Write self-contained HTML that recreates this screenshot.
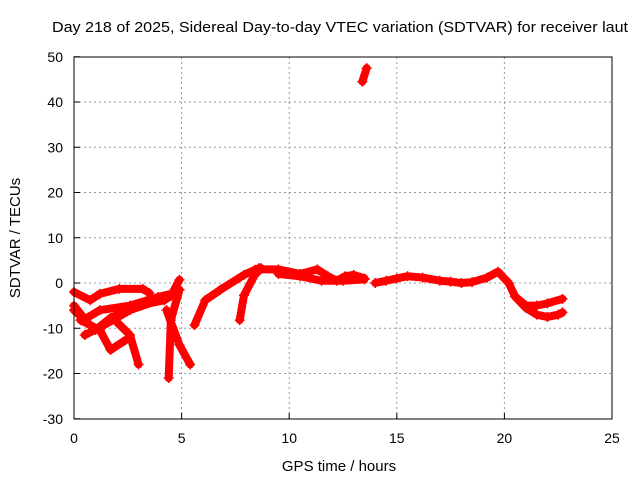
<!DOCTYPE html>
<html><head><meta charset="utf-8"><style>
body{margin:0;background:#fff}
svg{display:block;font-family:"Liberation Sans",sans-serif}
</style></head><body>
<svg id="c" width="640" height="480">
<text x="340" y="32" font-size="15" text-anchor="middle" textLength="576" lengthAdjust="spacingAndGlyphs">Day 218 of 2025, Sidereal Day-to-day VTEC variation (SDTVAR) for receiver laut</text>
<text x="339" y="471" font-size="15" text-anchor="middle">GPS time / hours</text>
<text transform="translate(20,238) rotate(-90)" font-size="15" text-anchor="middle">SDTVAR / TECUs</text>
<g id="grid"></g><g id="marks"></g>
<rect x="74" y="57" width="538" height="362" fill="none" stroke="#000" stroke-width="1"/>
</svg>
<script>
const xTicks=[0,5,10,15,20,25];
const yTicks=[-30,-20,-10,0,10,20,30,40,50];
const track1=[[0,-2],[0.75,-3.8],[1.2,-2.4],[2.1,-1.3],[3.2,-1.3],[3.5,-2.2]];
const track2=[[0,-5],[0.5,-8],[1.2,-6],[2.6,-5],[3.9,-3.1],[4.7,-2.2]];
const track3=[[0,-6],[1,-10.4],[1.7,-7.7],[3.1,-4.9],[4.2,-3.8],[4.9,-1.5]];
const track4=[[0.5,-11.5],[1.4,-9.3],[2.6,-6],[4.5,-2.9],[4.9,0.7]];
const track5=[[0.3,-8.2],[1.2,-10.4],[1.7,-14.8],[2.4,-12.6]];
const track6=[[1.9,-8.2],[2.6,-11.5],[3,-18]];
const track7=[[4.9,-1.5],[4.5,-8.2],[4.4,-21]];
const track8=[[4.3,-6],[4.9,-13.7],[5.4,-18]];
const track9=[[5.6,-9.3],[6.1,-3.8],[6.8,-1.5],[7.9,1.8],[8.4,2.9],[8.6,3.3]];
const track10=[[7.7,-8.2],[7.9,-2.7],[8.4,1.8],[8.7,3.3]];
const track11=[[8.6,3],[9.5,3],[10.5,2],[11.3,3],[11.8,1.5],[12.2,0.5],[12.6,1.5],[13,1.8],[13.5,1]];
const track12=[[9.5,2],[10.5,1.5],[11.5,0.5],[12.5,0.5],[13.5,0.8]];
const track13=[[14,0],[14.5,0.5],[15,1],[15.5,1.5],[16.2,1.2],[17,0.5],[17.5,0.3],[18,0],[18.5,0.2],[19.2,1.2],[19.7,2.5],[20.2,0],[20.5,-3],[21,-5.5],[21.5,-7],[22,-7.5],[22.5,-7],[22.7,-6.5]];
const track14=[[20.5,-3],[21,-5],[21.5,-5],[22,-4.5],[22.7,-3.5]];
const track15=[[13.4,44.5],[13.6,47.5]];
const tracks=[track1,track2,track3,track4,track5,track6,track7,track8,track9,track10,track11,track12,track13,track14,track15];
const X=h=>74+h*538/25, Y=v=>283-v*362/80;
const NS="http://www.w3.org/2000/svg";
const grid=document.getElementById('grid'), marks=document.getElementById('marks');
function mk(t,a,p){const e=document.createElementNS(NS,t);for(const k in a)e.setAttribute(k,a[k]);p.appendChild(e);return e;}
xTicks.forEach(t=>{
 if(t>0&&t<25){const g=mk('line',{x1:X(t),x2:X(t),y1:57,y2:419,stroke:'#999','stroke-dasharray':'2,3'},grid);
 
 }
 const k=mk('line',{x1:X(t),x2:X(t),y1:419,y2:413,stroke:'#000'},grid);
 
 
 const l=mk('text',{x:X(t),y:443,'font-size':14,'text-anchor':'middle'},grid);l.textContent=t;
 
 
});
yTicks.forEach(t=>{
 if(t>-30&&t<50){const g=mk('line',{x1:74,x2:612,y1:Y(t),y2:Y(t),stroke:'#999','stroke-dasharray':'2,3'},grid);
 
 }
 const k=mk('line',{x1:74,x2:80,y1:Y(t),y2:Y(t),stroke:'#000'},grid);
 
 
 const l=mk('text',{x:63,y:Y(t)+5,'font-size':14,'text-anchor':'end'},grid);l.textContent=t;
 
 
});
tracks.forEach((tr,i)=>{
 const p=mk('polyline',{points:tr.map(d=>X(d[0])+','+Y(d[1])).join(' '),fill:'none',stroke:'#f00','stroke-width':8,'stroke-linejoin':'round','stroke-linecap':'round'},marks);
 
 
 tr.forEach(d=>{
  const m=mk('path',{d:`M${X(d[0])-5},${Y(d[1])}h10M${X(d[0])},${Y(d[1])-5}v10`,stroke:'#f00','stroke-width':1.5},marks);
  
  
 });
});
</script>
</body></html>
